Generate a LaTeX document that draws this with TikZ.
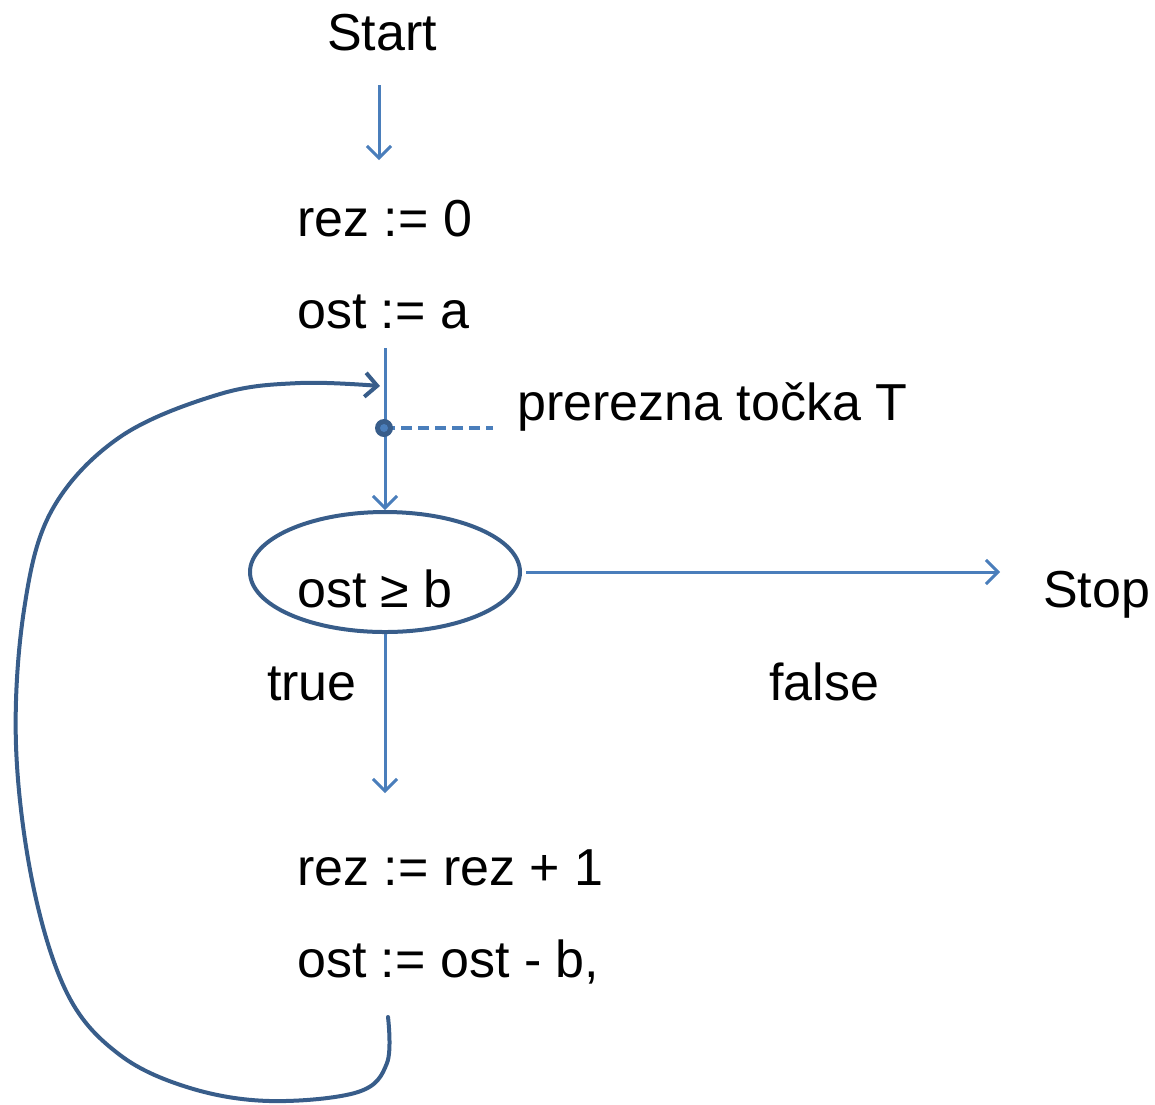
\documentclass[tikz,border=0pt]{standalone}
\usepackage{fontspec}
\setmainfont{Liberation Sans}
\usetikzlibrary{arrows.meta,shapes.geometric}
\definecolor{flowblue}{HTML}{4A7EBB}
\definecolor{loopblue}{HTML}{385D8A}
\begin{document}
\begin{tikzpicture}[x=1pt,y=-1pt,
  lbl/.style={anchor=base west, inner sep=0pt, font=\fontsize{52}{62}\selectfont},
  flowline/.style={flowblue, line width=3pt},
  flowarrow/.style={flowline, -{Straight Barb[length=12pt,width=24pt]}},
  looparrow/.style={loopblue, line width=4pt, line cap=round,
    -{Straight Barb[length=12pt,width=24pt]}}]
  \useasboundingbox (0,0) rectangle (1155,1104);

  % texts
  \node[lbl] (start) at (327,50) {Start};
  \node[lbl] (init1) at (297,236) {rez := 0};
  \node[lbl] (init2) at (297,328) {ost := a};
  \node[lbl] (cutlbl) at (517,420) {prerezna točka T};
  \node[lbl] (condlbl) at (297,607) {ost ≥ b};
  \node[lbl] (stop) at (1043,607) {Stop};
  \node[lbl] (truelbl) at (267,700) {true};
  \node[lbl] (falselbl) at (769,700) {false};
  \node[lbl] (body1) at (297,885) {rez := rez + 1};
  \node[lbl] (body2) at (297,977) {ost := ost - b,};

  % decision ellipse
  \node[ellipse, draw=loopblue, line width=4pt, minimum width=270pt,
        minimum height=120pt, inner sep=0pt] (cond) at (385,572) {};

  % anchor points of the connectors
  \coordinate (startout) at (379,85);
  \coordinate (startin) at (379,160);
  \coordinate (initout) at (385,348);
  \coordinate (cut) at (384,428);
  \coordinate (cutend) at (493,428);
  \coordinate (stopin) at (1000,572);
  \coordinate (bodyin) at (385,793);
  \coordinate (bodyout) at (388,1017);
  \coordinate (loopin) at (380,386);

  % main flow
  \draw[flowarrow] (startout) -- (startin);
  \draw[flowarrow] (initout) -- (cond.north);
  \draw[flowarrow] ([xshift=4pt]cond.east) -- (stopin);
  \draw[flowarrow] (cond.south) -- (bodyin);

  % cut point
  \draw[flowblue, line width=3.5pt, dash pattern=on 11pt off 6pt] (cut) -- (cutend);
  \fill[loopblue] (cut) circle (9pt);
  \fill[flowblue] (cut) circle (4pt);

  % loop back
  \draw[looparrow] plot[smooth, tension=0.6] coordinates {
    (bodyout) (387,1063) (358,1092) (270,1101) (190,1088) (120,1055)
    (68,995) (33,885) (16,745) (24,610) (52,510) (120,437) (220,394)
    (300,383) (loopin)};
\end{tikzpicture}
\end{document}
